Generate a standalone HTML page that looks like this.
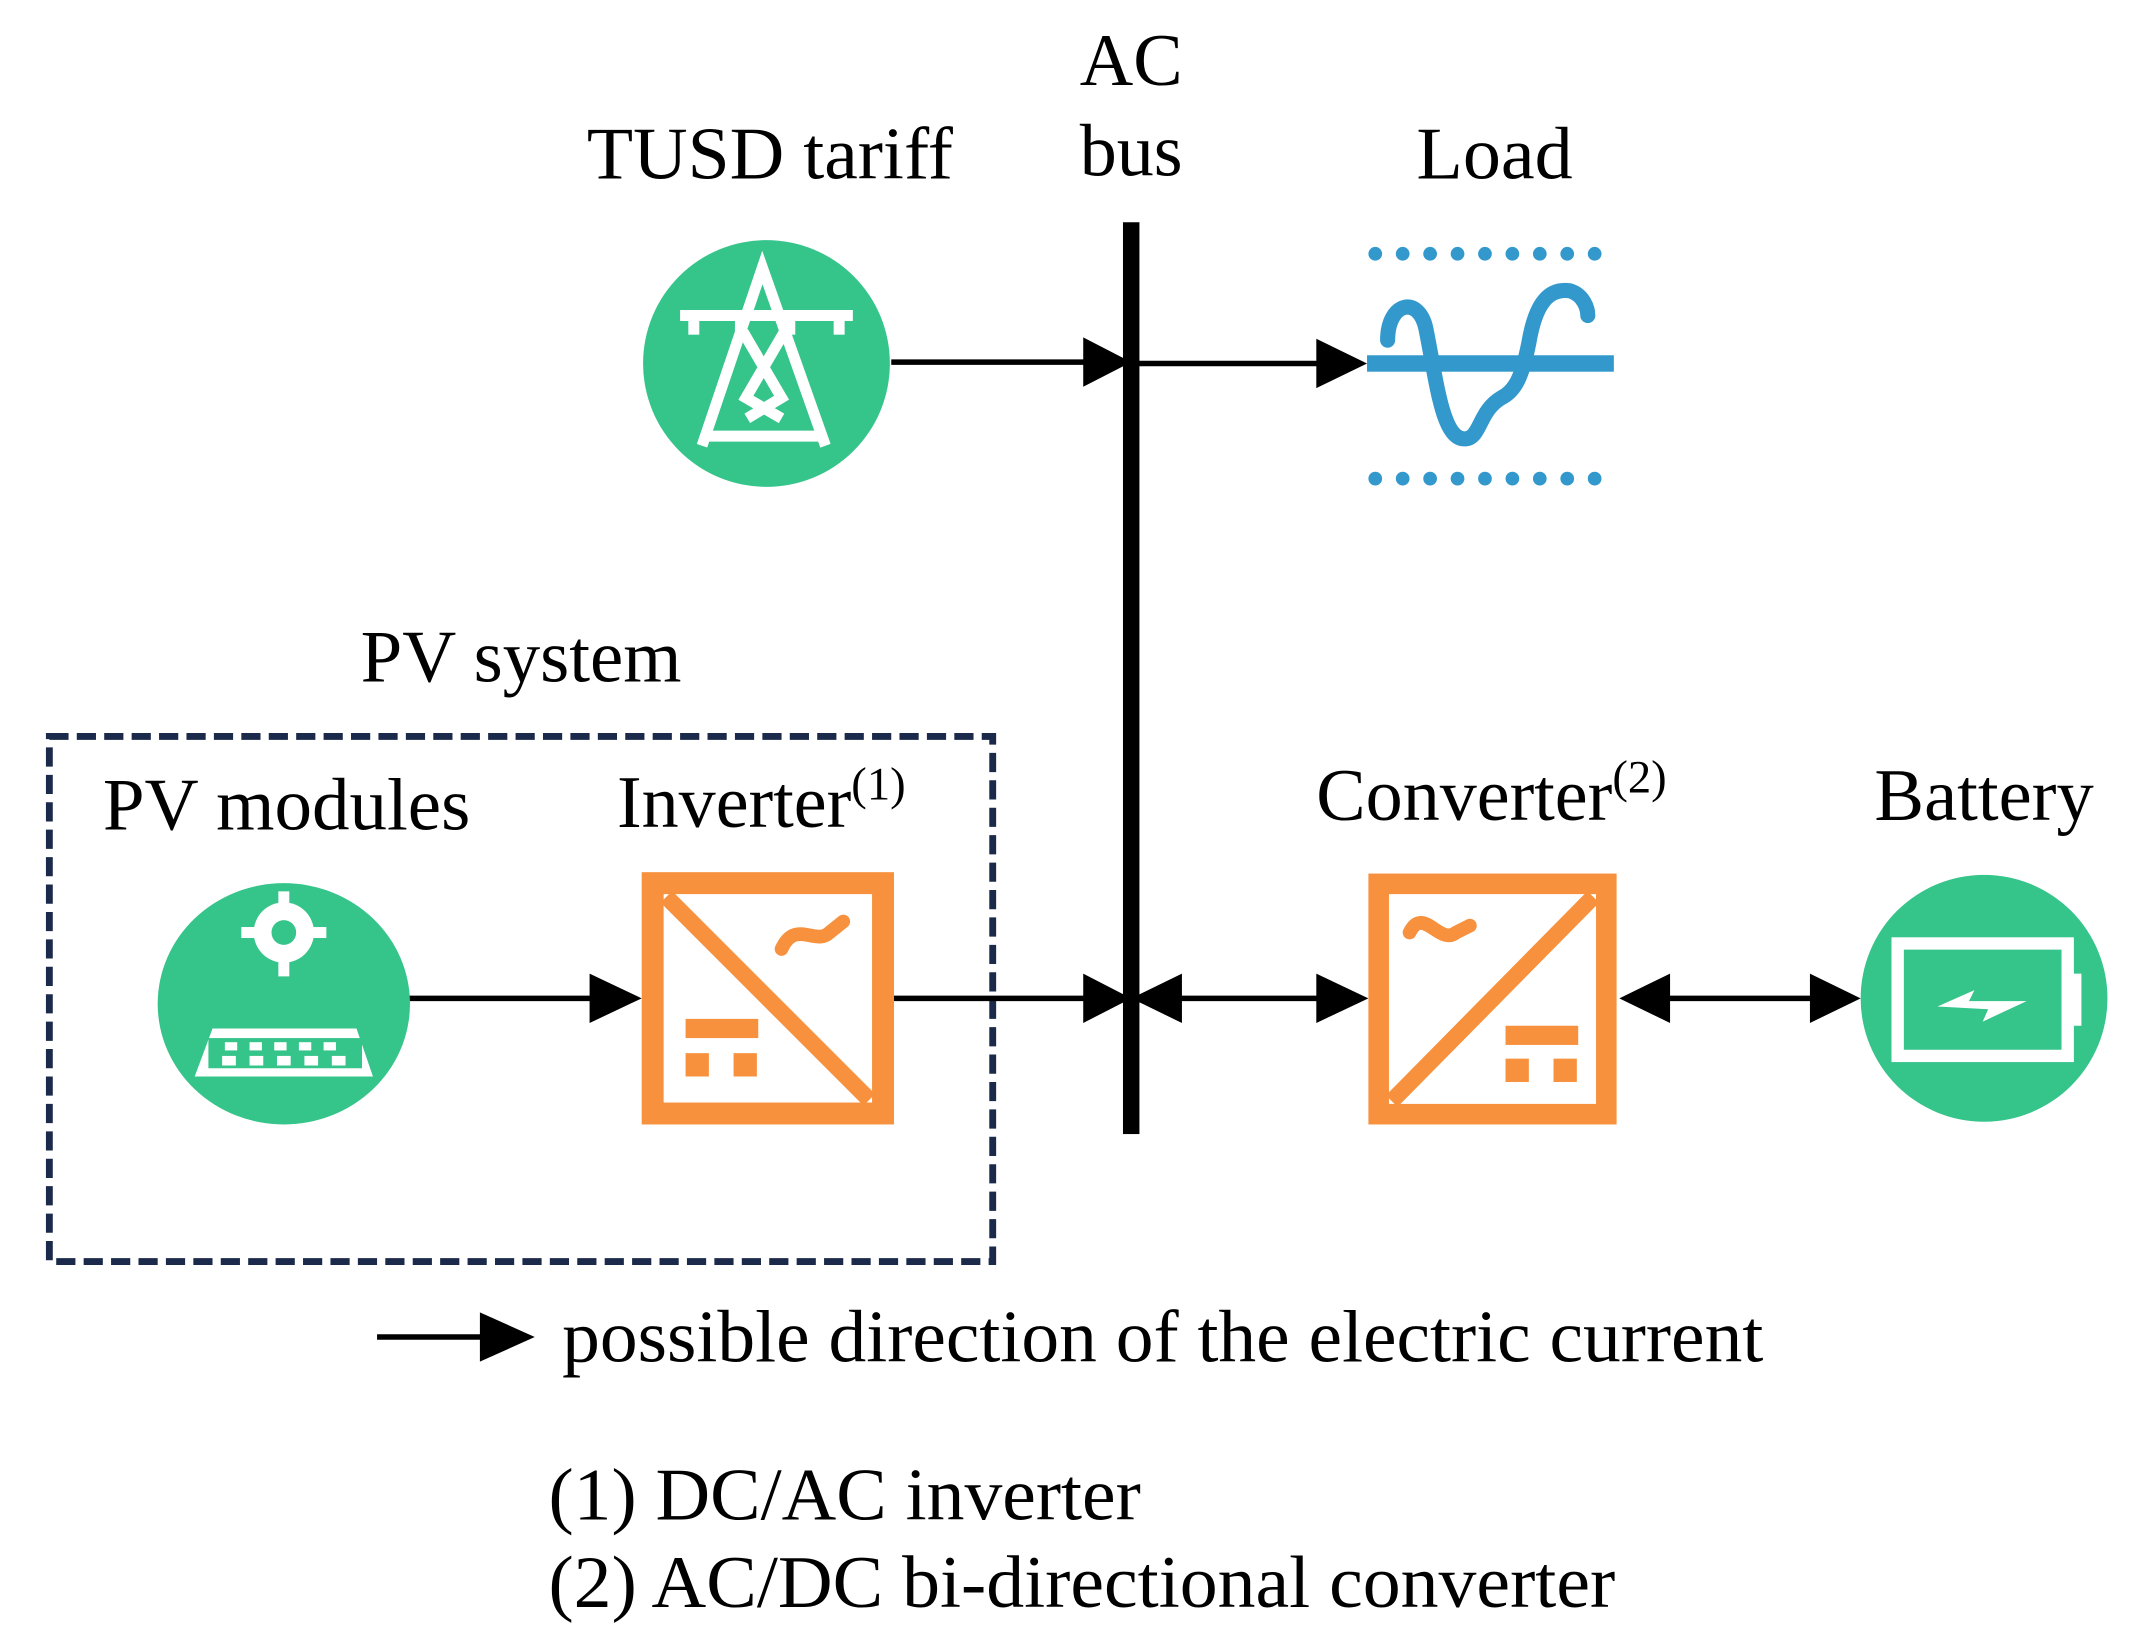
<!DOCTYPE html>
<html><head><meta charset="utf-8"><style>
html,body{margin:0;padding:0;background:#fff;}
svg{display:block;}
text{font-family:"Liberation Serif",serif;fill:#000;}
</style></head><body>
<svg width="2139" height="1647" viewBox="0 0 1560 1201" xmlns="http://www.w3.org/2000/svg">
<defs>
<marker id="a" viewBox="0 0 10 10" refX="10" refY="5" markerWidth="10" markerHeight="10" markerUnits="userSpaceOnUse"></marker>
</defs>
<!-- labels -->
<text x="825" y="62" font-size="54" text-anchor="middle">AC</text>
<text x="825" y="128" font-size="54" text-anchor="middle">bus</text>
<text x="428" y="130" font-size="54" textLength="267" lengthAdjust="spacingAndGlyphs">TUSD tariff</text>
<text x="1033" y="130" font-size="54" textLength="114" lengthAdjust="spacingAndGlyphs">Load</text>
<text x="263" y="497" font-size="54" textLength="234" lengthAdjust="spacingAndGlyphs">PV system</text>
<text x="75" y="605" font-size="54" textLength="268" lengthAdjust="spacingAndGlyphs">PV modules</text>
<text x="450" y="603" font-size="54">Inverter<tspan font-size="34" dy="-20">(1)</tspan></text>
<text x="960" y="598" font-size="54">Converter<tspan font-size="34" dy="-20">(2)</tspan></text>
<text x="1367" y="598" font-size="54" textLength="160" lengthAdjust="spacingAndGlyphs">Battery</text>
<text x="410" y="993" font-size="54" textLength="876" lengthAdjust="spacingAndGlyphs">possible direction of the electric current</text>
<text x="400" y="1108" font-size="54" textLength="432" lengthAdjust="spacingAndGlyphs">(1) DC/AC inverter</text>
<text x="400" y="1172" font-size="54" textLength="778" lengthAdjust="spacingAndGlyphs">(2) AC/DC bi-directional converter</text>

<!-- dashed box -->
<rect x="36" y="537" width="688" height="383" fill="none" stroke="#1b2a4a" stroke-width="5" stroke-dasharray="14 6"/>

<!-- bus -->
<rect x="819" y="162" width="12" height="665" fill="#000"/>

<!-- connectors -->
<g stroke="#000" stroke-width="4">
<line x1="650" y1="264" x2="792" y2="264"/>
<line x1="830" y1="265" x2="962" y2="265"/>
<line x1="298" y1="728" x2="432" y2="728"/>
<line x1="652" y1="728" x2="792" y2="728"/>
<line x1="860" y1="728" x2="962" y2="728"/>
<line x1="1216" y1="728" x2="1322" y2="728"/>
<line x1="275" y1="975" x2="352" y2="975"/>
</g>
<g fill="#000">
<polygon points="790,246 825,264 790,282"/>
<polygon points="960,247 997,265 960,283"/>
<polygon points="430,710 468,728 430,746"/>
<polygon points="790,710 825,728 790,746"/>
<polygon points="862,710 825,728 862,746"/>
<polygon points="960,710 998,728 960,746"/>
<polygon points="1218,710 1181,728 1218,746"/>
<polygon points="1320,710 1357,728 1320,746"/>
<polygon points="350,957 390,975 350,993"/>
</g>

<!-- tower -->
<ellipse cx="559" cy="265" rx="90" ry="90" fill="#35c48a"/>
<g fill="none" stroke="#fff" stroke-width="8">
<polyline points="512,325 556,195 602,325"/>
<line x1="496" y1="230" x2="622" y2="230"/>
<line x1="506" y1="230" x2="506" y2="244"/><line x1="612" y1="230" x2="612" y2="244"/>
<line x1="540" y1="232" x2="540" y2="244"/><line x1="576" y1="232" x2="576" y2="244"/>
<polyline points="542,242 570,290 545,305"/>
<polyline points="572,242 544,290 570,305"/>
<line x1="515" y1="318" x2="598" y2="318"/>
</g>

<!-- load icon -->
<g fill="#3399cc">
<circle cx="1003" cy="185" r="5"/><circle cx="1023" cy="185" r="5"/><circle cx="1043" cy="185" r="5"/><circle cx="1063" cy="185" r="5"/><circle cx="1083" cy="185" r="5"/><circle cx="1103" cy="185" r="5"/><circle cx="1123" cy="185" r="5"/><circle cx="1143" cy="185" r="5"/><circle cx="1163" cy="185" r="5"/>
<circle cx="1003" cy="349" r="5"/><circle cx="1023" cy="349" r="5"/><circle cx="1043" cy="349" r="5"/><circle cx="1063" cy="349" r="5"/><circle cx="1083" cy="349" r="5"/><circle cx="1103" cy="349" r="5"/><circle cx="1123" cy="349" r="5"/><circle cx="1143" cy="349" r="5"/><circle cx="1163" cy="349" r="5"/>
<rect x="997" y="259" width="180" height="12"/>
</g>
<path d="M1012,248 C1012,220 1035,215 1040,240 C1048,280 1052,320 1068,320 C1080,320 1078,300 1095,290 C1105,285 1110,275 1115,250 C1120,220 1130,210 1145,212 C1155,215 1158,225 1158,230" fill="none" stroke="#3399cc" stroke-width="11" stroke-linecap="round"/>

<!-- PV modules -->
<ellipse cx="207" cy="732" rx="92" ry="88" fill="#35c48a"/>
<g fill="#fff">
<circle cx="207" cy="680" r="22"/>
<rect x="203" y="650" width="8" height="62"/>
<rect x="176" y="676" width="62" height="8"/>
</g>
<circle cx="207" cy="680" r="9" fill="#35c48a"/>
<polygon points="155,750 260,750 272,785 142,785" fill="#fff"/>
<rect x="152" y="757" width="112" height="22" fill="#35c48a"/>
<g fill="#fff">
<rect x="164" y="760" width="9" height="6"/><rect x="182" y="760" width="9" height="6"/><rect x="200" y="760" width="9" height="6"/><rect x="218" y="760" width="9" height="6"/><rect x="236" y="760" width="9" height="6"/>
<rect x="162" y="770" width="10" height="7"/><rect x="182" y="770" width="10" height="7"/><rect x="202" y="770" width="10" height="7"/><rect x="222" y="770" width="10" height="7"/><rect x="242" y="770" width="10" height="7"/>
</g>

<!-- inverter -->
<rect x="468" y="636" width="184" height="184" fill="#f7913d"/>
<rect x="484" y="652" width="152" height="152" fill="#fff"/>
<line x1="486" y1="654" x2="634" y2="802" stroke="#f7913d" stroke-width="12"/>
<path d="M570,692 C580,670 595,690 605,680 L615,672" fill="none" stroke="#f7913d" stroke-width="10" stroke-linecap="round"/>
<rect x="500" y="743" width="53" height="14" fill="#f7913d"/>
<rect x="500" y="768" width="17" height="17" fill="#f7913d"/>
<rect x="535" y="768" width="17" height="17" fill="#f7913d"/>

<!-- converter -->
<rect x="998" y="637" width="181" height="183" fill="#f7913d"/>
<rect x="1013" y="652" width="151" height="153" fill="#fff"/>
<line x1="1015" y1="803" x2="1162" y2="654" stroke="#f7913d" stroke-width="12"/>
<path d="M1028,680 C1038,660 1050,690 1062,680 L1072,675" fill="none" stroke="#f7913d" stroke-width="10" stroke-linecap="round"/>
<rect x="1098" y="748" width="53" height="14" fill="#f7913d"/>
<rect x="1098" y="772" width="17" height="17" fill="#f7913d"/>
<rect x="1133" y="772" width="17" height="17" fill="#f7913d"/>

<!-- battery -->
<ellipse cx="1447" cy="728" rx="90" ry="90" fill="#35c48a"/>
<rect x="1384" y="688" width="124" height="82" fill="none" stroke="#fff" stroke-width="9"/>
<rect x="1508" y="710" width="10" height="38" fill="#fff"/>
<polygon points="1413,734 1440,722 1436,730 1478,730 1446,745 1450,736" fill="#fff"/>
</svg>
</body></html>
